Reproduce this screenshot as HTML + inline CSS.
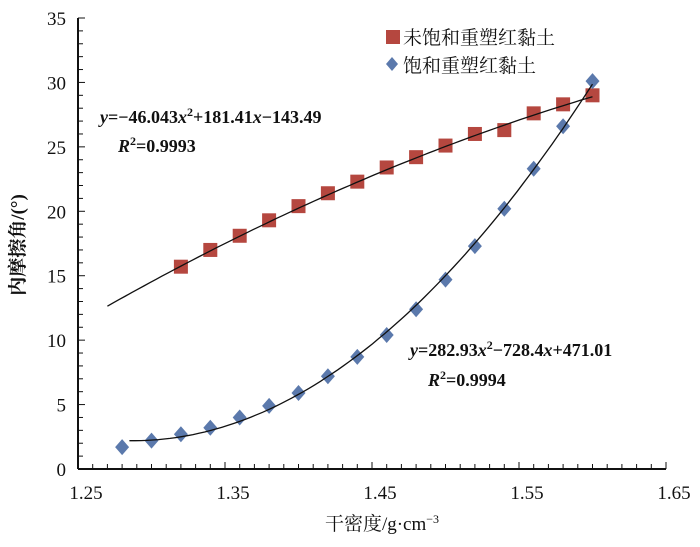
<!DOCTYPE html>
<html><head><meta charset="utf-8"><style>
body{margin:0;background:#fff}
text{font-family:"Liberation Serif","Noto Serif CJK SC",serif;fill:#111}
</style></head><body>
<svg id="c" width="700" height="542" xmlns="http://www.w3.org/2000/svg"></svg>
<script>
const xTicks=[1.25,1.35,1.45,1.55,1.65];
const yTicks=[0,5,10,15,20,25,30,35];
const redX=[1.32,1.34,1.36,1.38,1.40,1.42,1.44,1.46,1.48,1.50,1.52,1.54,1.56,1.58,1.60];
const redY=[15.7,17.0,18.1,19.3,20.4,21.4,22.3,23.4,24.2,25.1,26.0,26.3,27.6,28.3,29.0];
const blueX=[1.28,1.30,1.32,1.34,1.36,1.38,1.40,1.42,1.44,1.46,1.48,1.50,1.52,1.54,1.56,1.58,1.60];
const blueY=[1.7,2.2,2.7,3.2,4.0,4.9,5.9,7.2,8.7,10.4,12.4,14.7,17.3,20.2,23.3,26.6,30.1];
const redFit=[-46.043,181.41,-143.49];
const blueFit=[282.93,-728.4,471.01];
const NS="http://www.w3.org/2000/svg",svg=document.getElementById('c');
const X0=78,X1=666,Y0=469,Y1=18;
const sx=v=>X0+(v-1.25)/0.4*(X1-X0), sy=v=>Y0-v/35*(Y0-Y1);
function el(t,a,p){const e=document.createElementNS(NS,t);for(const k in a)e.setAttribute(k,a[k]);(p||svg).appendChild(e);return e;}
let e;
e=el('line',{x1:X0,y1:Y0,x2:X1,y2:Y0,stroke:'#111','stroke-width':2});


e=el('line',{x1:X0,y1:Y0,x2:X0,y2:Y1,stroke:'#111','stroke-width':2});


for(let i=0;i<=40;i++){const x=X0+i*(X1-X0)/40;el('line',{x1:x,y1:Y0,x2:x,y2:Y0-(i%10==0?7:5),stroke:'#111','stroke-width':1});}
for(let i=0;i<=35;i++){const y=sy(i);el('line',{x1:X0,y1:y,x2:X0+(i%5==0?7:5),y2:y,stroke:'#111','stroke-width':1});}
xTicks.forEach(v=>{e=el('text',{x:sx(v)+8,y:Y0+30,'text-anchor':'middle','font-size':19});e.textContent=v.toFixed(2);

});
yTicks.forEach(v=>{e=el('text',{x:X0-12,y:sy(v)+7,'text-anchor':'end','font-size':19});e.textContent=v;

});
e=el('text',{x:382,y:530,'text-anchor':'middle','font-size':19});e.innerHTML='干密度/g·cm<tspan dy="-7" font-size="12">−3</tspan>';


e=el('text',{x:0,y:0,'text-anchor':'middle','font-size':19,'font-weight':'bold',transform:'translate(24,245) rotate(-90)'});e.textContent='内摩擦角/(°)';


function curve(c,a,b,name){let d='';for(let i=0;i<=80;i++){const x=a+(b-a)*i/80;const y=c[0]*x*x+c[1]*x+c[2];d+=(i?'L':'M')+sx(x).toFixed(1)+','+sy(y).toFixed(1);}
const p=el('path',{d:d,fill:'none',stroke:'#111','stroke-width':1.3});

}
redX.forEach((x,i)=>{e=el('rect',{x:sx(x)-7,y:sy(redY[i])-7,width:14,height:14,fill:'#b5473f'});

});
blueX.forEach((x,i)=>{const cx=sx(x),cy=sy(blueY[i]);e=el('polygon',{points:`${cx},${cy-8} ${cx+7},${cy} ${cx},${cy+8} ${cx-7},${cy}`,fill:'#5b79ac'});

});
curve(redFit,1.27,1.60,'unsaturated-trendline');
curve(blueFit,1.285,1.60,'saturated-trendline');
e=el('rect',{x:386,y:30,width:14,height:14,fill:'#b5473f'});


e=el('text',{x:403,y:44,'font-size':19});e.textContent='未饱和重塑红黏土';


e=el('polygon',{points:'392,57 398,64 392,71 386,64',fill:'#5b79ac'});


e=el('text',{x:403,y:72,'font-size':19});e.textContent='饱和重塑红黏土';


e=el('text',{x:100,y:123,'font-size':18,'font-weight':'bold'});e.innerHTML='<tspan font-style="italic">y</tspan>=−46.043<tspan font-style="italic">x</tspan><tspan dy="-7" font-size="12">2</tspan><tspan dy="7">+181.41</tspan><tspan font-style="italic">x</tspan>−143.49';


e=el('text',{x:118,y:152,'font-size':18,'font-weight':'bold'});e.innerHTML='<tspan font-style="italic">R</tspan><tspan dy="-7" font-size="12">2</tspan><tspan dy="7">=0.9993</tspan>';


e=el('text',{x:410,y:356,'font-size':18,'font-weight':'bold'});e.innerHTML='<tspan font-style="italic">y</tspan>=282.93<tspan font-style="italic">x</tspan><tspan dy="-7" font-size="12">2</tspan><tspan dy="7">−728.4</tspan><tspan font-style="italic">x</tspan>+471.01';


e=el('text',{x:428,y:386,'font-size':18,'font-weight':'bold'});e.innerHTML='<tspan font-style="italic">R</tspan><tspan dy="-7" font-size="12">2</tspan><tspan dy="7">=0.9994</tspan>';


</script>
</body></html>
